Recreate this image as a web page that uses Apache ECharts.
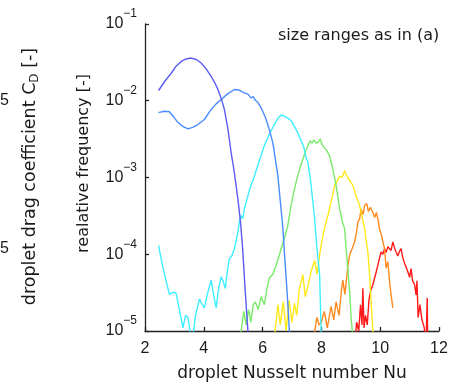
<!DOCTYPE html>
<html>
<head>
<meta charset="utf-8">
<script src="https://cdn.jsdelivr.net/npm/echarts@6/dist/echarts.min.js"></script>
<style>
  html, body { margin: 0; padding: 0; background: #ffffff; }
  #chart { width: 452px; height: 387px; }
</style>
</head>
<body>
<div id="chart"></div>
<script>
// Axis ticks
const xTicks = [2, 4, 6, 8, 10, 12];
const yDecades = [-5, -4, -3, -2, -1];

// Relative frequency of the droplet Nusselt number, one curve per size range: [Nu, frequency]
const sizeRange1 = [
  [2.46, 0.0136], [2.7, 0.0185], [2.9, 0.023], [3.05, 0.028], [3.23, 0.0325], [3.4, 0.035],
  [3.57, 0.036], [3.75, 0.0345], [3.91, 0.031], [4.08, 0.026], [4.25, 0.0208], [4.38, 0.017],
  [4.48, 0.014], [4.6, 0.0105], [4.7, 0.0077], [4.82, 0.0043], [4.93, 0.0021], [5.02, 0.0013],
  [5.1, 7.8e-4], [5.18, 4.5e-4], [5.25, 2.6e-4], [5.32, 1.2e-4], [5.38, 5e-5], [5.44, 2.2e-5],
  [5.5, 1e-5], [5.55, 5e-6]
];
const sizeRange2 = [
  [2.46, 0.0070], [2.65, 0.0073], [2.83, 0.0072], [2.97, 0.0062], [3.12, 0.0052], [3.3, 0.0046],
  [3.46, 0.0043], [3.62, 0.0045], [3.8, 0.0049], [4.02, 0.0057], [4.25, 0.0077], [4.42, 0.0091],
  [4.59, 0.0104], [4.8, 0.0122], [5.04, 0.014], [5.2, 0.0138], [5.38, 0.0127], [5.5, 0.0122],
  [5.61, 0.0109], [5.68, 0.0113], [5.75, 0.0102], [5.85, 0.0094], [5.95, 0.0081], [6.1, 0.0060],
  [6.23, 0.0042], [6.35, 0.0028], [6.52, 0.00105], [6.6, 5e-4], [6.69, 2.2e-4], [6.74, 1.07e-4],
  [6.8, 5e-5], [6.86, 2.2e-5], [6.91, 1e-5], [6.95, 5e-6]
];
const sizeRange3 = [
  [2.46, 1.3e-4], [2.6, 7e-5], [2.75, 4e-5], [2.83, 3e-5], [2.95, 3.2e-5], [3.06, 3.1e-5],
  [3.18, 1.8e-5], [3.29, 1.1e-5], [3.38, 1.6e-5], [3.46, 1.5e-5], [3.55, 9e-6], [3.62, 8e-6],
  [3.72, 1.6e-5], [3.85, 2.6e-5], [3.95, 2.2e-5], [4.02, 2e-5], [4.12, 3e-5], [4.25, 4.6e-5],
  [4.33, 3e-5], [4.42, 2e-5], [4.5, 3.5e-5], [4.59, 5.1e-5], [4.66, 4.4e-5], [4.73, 3.6e-5],
  [4.8, 6e-5], [4.87, 8.8e-5], [4.95, 9.5e-5], [5.04, 1.17e-4], [5.16, 1.95e-4], [5.22, 2.8e-4],
  [5.27, 3.2e-4], [5.32, 2.9e-4], [5.38, 3.9e-4], [5.55, 6.8e-4], [5.72, 1.04e-3], [5.9, 1.7e-3],
  [6.06, 2.6e-3], [6.22, 3.6e-3], [6.4, 4.9e-3], [6.52, 5.9e-3], [6.63, 6.5e-3], [6.75, 6.3e-3],
  [6.87, 5.9e-3], [6.97, 5.5e-3], [7.1, 4.5e-3], [7.2, 3.8e-3], [7.31, 3.0e-3], [7.4, 2.5e-3],
  [7.48, 1.8e-3], [7.54, 1.6e-3], [7.6, 1.1e-3], [7.65, 7.9e-4], [7.71, 4.8e-4], [7.77, 2.9e-4],
  [7.82, 1.6e-4], [7.88, 9e-5], [7.94, 5.4e-5], [7.99, 1e-5], [8.02, 5e-6]
];
const sizeRange4 = [
  [5.22, 5e-6], [5.27, 1e-5], [5.36, 1.8e-5], [5.44, 1.2e-5], [5.52, 1.9e-5], [5.6, 1.3e-5],
  [5.68, 2.2e-5], [5.75, 2.4e-5], [5.85, 1.9e-5], [5.95, 2.8e-5], [6.06, 2.2e-5], [6.15, 3.6e-5],
  [6.23, 4.9e-5], [6.35, 5.5e-5], [6.46, 7.2e-5], [6.57, 9.8e-5], [6.65, 1.25e-4], [6.74, 1.6e-4],
  [6.85, 2.3e-4], [6.97, 4.3e-4], [7.05, 6.2e-4], [7.14, 8.7e-4], [7.25, 1.25e-3], [7.37, 1.74e-3],
  [7.46, 2.2e-3], [7.54, 2.6e-3], [7.62, 3.0e-3], [7.68, 2.8e-3], [7.74, 3.1e-3], [7.82, 2.8e-3],
  [7.9, 2.9e-3], [7.96, 3.2e-3], [8.02, 2.7e-3], [8.1, 2.45e-3], [8.2, 2.2e-3], [8.28, 1.9e-3],
  [8.39, 1.29e-3], [8.5, 7.9e-4], [8.62, 3.9e-4], [8.72, 2.6e-4], [8.79, 2.15e-4], [8.84, 1.18e-4],
  [8.9, 6.5e-5], [8.96, 3.3e-5], [9.01, 1.5e-5], [9.05, 1e-5], [9.08, 5e-6]
];
const sizeRange5 = [
  [6.4, 8e-6], [6.52, 2.2e-5], [6.6, 1.2e-5], [6.7, 2.4e-5], [6.8, 1e-5], [6.9, 2.5e-5],
  [7.0, 1.3e-5], [7.08, 2.3e-5], [7.16, 1.6e-5], [7.25, 3.5e-5], [7.37, 5.4e-5], [7.45, 2.8e-5],
  [7.54, 3.8e-5], [7.65, 6e-5], [7.77, 8.3e-5], [7.85, 5.5e-5], [7.94, 9.8e-5], [8.02, 1.5e-4],
  [8.1, 2.15e-4], [8.22, 3.2e-4], [8.33, 4.8e-4], [8.45, 7.9e-4], [8.55, 9.2e-4], [8.62, 1.04e-3],
  [8.7, 1.0e-3], [8.79, 1.22e-3], [8.84, 1.1e-3], [8.9, 1.0e-3], [8.98, 9.0e-4], [9.07, 7.9e-4],
  [9.18, 5.8e-4], [9.3, 4.3e-4], [9.38, 3.1e-4], [9.47, 2.15e-4], [9.58, 1.07e-4], [9.64, 5.4e-5],
  [9.69, 2.4e-5], [9.75, 1e-5], [9.78, 5e-6]
];
const sizeRange6 = [
  [7.74, 5e-6], [7.77, 1.0e-5], [7.85, 1.5e-5], [7.92, 1.2e-5], [8.0, 1.3e-5], [8.1, 1.8e-5],
  [8.2, 1.1e-5], [8.33, 2.1e-5], [8.42, 1.4e-5], [8.5, 2.4e-5], [8.6, 1.6e-5], [8.68, 3.3e-5],
  [8.73, 4.6e-5], [8.8, 3.0e-5], [8.9, 7.0e-5], [8.96, 9.8e-5], [9.05, 1.2e-4], [9.13, 1.45e-4],
  [9.2, 2.0e-4], [9.24, 2.6e-4], [9.3, 2.9e-4], [9.35, 3.9e-4], [9.42, 3.3e-4], [9.47, 4.3e-4],
  [9.54, 4.6e-4], [9.6, 3.6e-4], [9.67, 4.1e-4], [9.75, 3.5e-4], [9.81, 3.0e-4], [9.87, 3.5e-4],
  [9.92, 2.9e-4], [9.98, 2.1e-4], [10.04, 1.8e-4], [10.09, 1.45e-4], [10.15, 1.18e-4],
  [10.2, 6.6e-5], [10.26, 8.0e-5], [10.32, 4.4e-5], [10.37, 2.95e-5], [10.43, 2.0e-5]
];
const sizeRange7 = [
  [9.15, 8e-6], [9.2, 1.3e-5], [9.27, 1e-5], [9.33, 2.2e-5], [9.38, 1.2e-5], [9.41, 3.6e-5],
  [9.45, 1.1e-5], [9.5, 1.6e-5], [9.56, 1.2e-5], [9.62, 2.6e-5], [9.68, 3.4e-5], [9.75, 4.0e-5],
  [9.81, 4.9e-5], [9.87, 6.0e-5], [9.92, 7.2e-5], [9.98, 9.0e-5], [10.03, 1.07e-4], [10.09, 1.0e-4],
  [10.15, 1.18e-4], [10.2, 1.05e-4], [10.26, 1.25e-4], [10.32, 1.31e-4], [10.37, 1.12e-4],
  [10.43, 1.45e-4], [10.49, 1.2e-4], [10.54, 1.07e-4], [10.6, 9.5e-5], [10.66, 1.1e-4],
  [10.71, 1.18e-4], [10.77, 9e-5], [10.83, 7.6e-5], [10.88, 6.8e-5], [10.94, 5.9e-5], [11.0, 5e-5],
  [11.05, 6.5e-5], [11.1, 4.5e-5], [11.17, 4e-5], [11.22, 2.95e-5], [11.25, 4.5e-5], [11.29, 1.5e-5],
  [11.35, 2.2e-5], [11.42, 1.4e-5], [11.5, 1.1e-5], [11.55, 5e-6], [11.6, 2.7e-5], [11.62, 5e-6]
];

const curves = [sizeRange1, sizeRange2, sizeRange3, sizeRange4, sizeRange5, sizeRange6, sizeRange7];
const curveColors = ['#5a5af5', '#4a8cff', '#3ceeff', '#7aea6a', '#ffe81a', '#ff8a20', '#ff1a1a'];

const textColor = '#1a1a1a';
const sans = 'DejaVu Sans';
const arial = 'Liberation Sans, Arial, sans-serif';

const chart = echarts.init(document.getElementById('chart'), null, { renderer: 'canvas' });

chart.setOption({
  animation: false,
  backgroundColor: '#ffffff',
  grid: { left: 145, top: 24, width: 294, height: 310, containLabel: false },
  xAxis: {
    type: 'value',
    min: xTicks[0],
    max: xTicks[xTicks.length - 1],
    interval: xTicks[1] - xTicks[0],
    name: 'droplet Nusselt number Nu',
    nameLocation: 'middle',
    nameGap: 34,
    nameTextStyle: { fontFamily: sans, fontSize: 17, color: textColor },
    axisLine: { show: true, lineStyle: { color: '#222', width: 1.3 } },
    axisTick: { show: true, inside: true, length: 4, lineStyle: { color: '#222', width: 1.3 } },
    axisLabel: { fontFamily: arial, fontSize: 16, color: textColor, margin: 10 },
    splitLine: { show: false }
  },
  yAxis: {
    type: 'log',
    logBase: 10,
    min: Math.pow(10, yDecades[0]),
    max: Math.pow(10, yDecades[yDecades.length - 1]),
    axisLine: { show: true, lineStyle: { color: '#222', width: 1.3 } },
    axisTick: { show: true, inside: true, length: 4, lineStyle: { color: '#222', width: 1.3 } },
    minorTick: { show: false },
    splitLine: { show: false },
    axisLabel: {
      margin: 8,
      formatter: function (v) {
        const e = Math.round(Math.log10(v));
        return '{b|10}{e|' + (e < 0 ? '\u2212' + (-e) : e) + '}';
      },
      rich: {
        // base "10" centred on the tick, exponent raised to the top of a tall line
        b: { fontFamily: arial, fontSize: 16, lineHeight: 32, color: textColor, verticalAlign: 'middle' },
        e: { fontFamily: arial, fontSize: 12, lineHeight: 32, color: textColor, verticalAlign: 'top' }
      }
    }
  },
  graphic: [
    {
      type: 'text', left: 278, top: 28, silent: true,
      style: { text: 'size ranges as in (a)', fontFamily: sans, fontSize: 16, fill: textColor }
    },
    {
      type: 'text', x: 84, y: 163.5, rotation: Math.PI / 2, silent: true,
      style: { text: 'realative frequency [-]', fontFamily: sans, fontSize: 16, fill: textColor,
               align: 'center', verticalAlign: 'middle' }
    },
    {
      type: 'text', x: 30, y: 176.5, rotation: Math.PI / 2, silent: true,
      style: {
        text: '{a|droplet drag coefficient C}{s|D}{a| [-]}',
        align: 'center', verticalAlign: 'middle',
        rich: {
          a: { fontFamily: sans, fontSize: 17.5, lineHeight: 22, fill: textColor, verticalAlign: 'middle' },
          s: { fontFamily: sans, fontSize: 12, lineHeight: 22, fill: textColor, verticalAlign: 'bottom' }
        }
      }
    },
    {
      type: 'text', x: 9, y: 101, silent: true,
      style: { text: '5', fontFamily: arial, fontSize: 16, fill: textColor, align: 'right', verticalAlign: 'middle' }
    },
    {
      type: 'text', x: 9, y: 249, silent: true,
      style: { text: '5', fontFamily: arial, fontSize: 16, fill: textColor, align: 'right', verticalAlign: 'middle' }
    }
  ],
  series: curves.map(function (data, i) {
    return {
      type: 'line',
      data: data,
      showSymbol: false,
      symbol: 'none',
      clip: true,
      z: 10 - i,
      lineStyle: { color: curveColors[i], width: 1.4 }
    };
  })
});
</script>
</body>
</html>
